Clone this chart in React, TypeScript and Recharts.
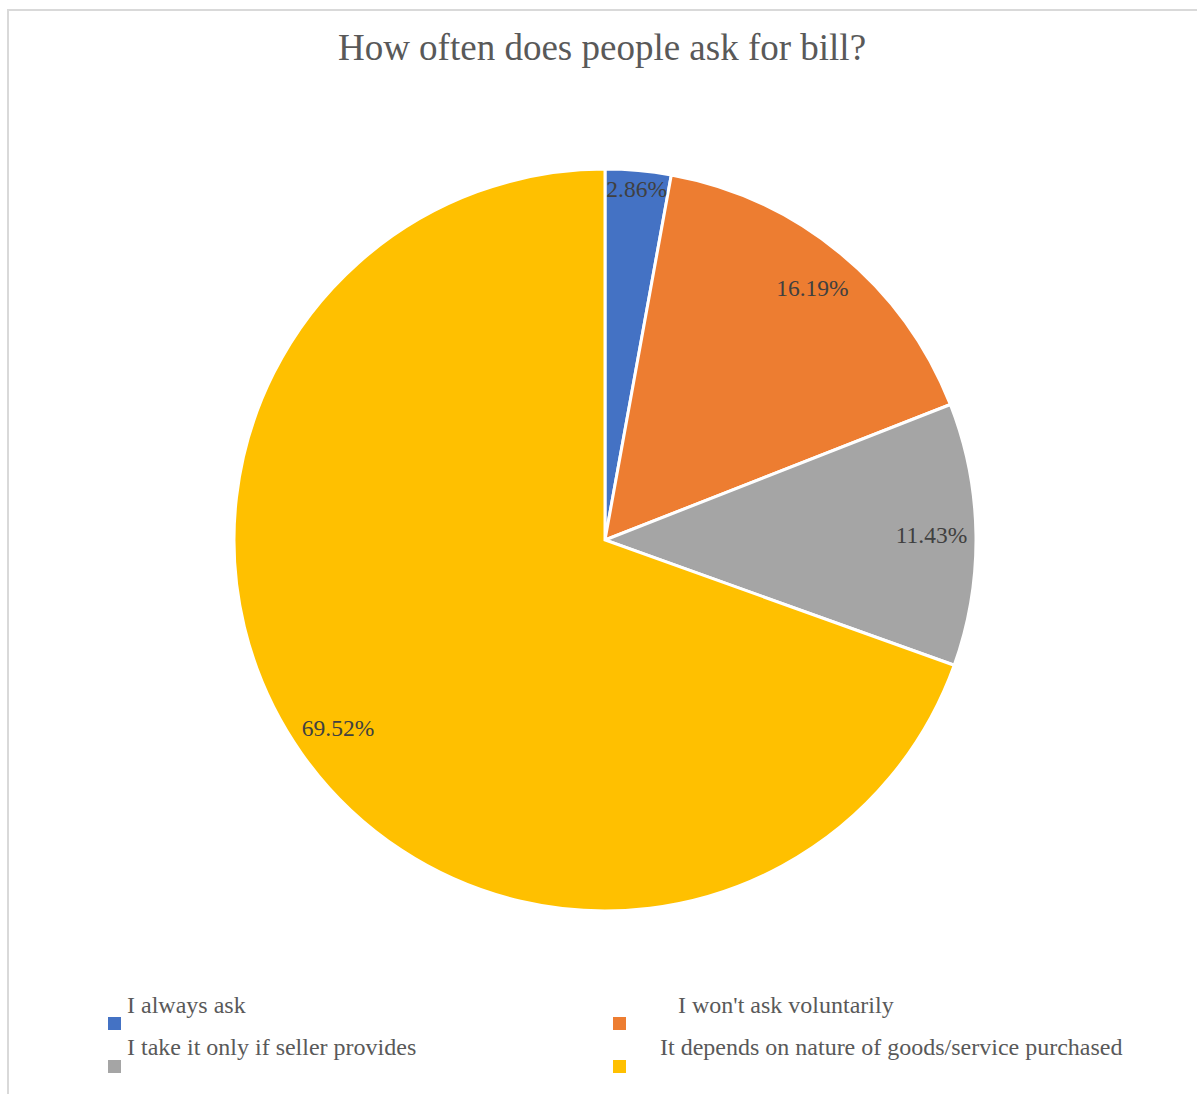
import React from "react";
import { PieChart, Pie, Cell } from "recharts";

const categories = [
  "I always ask",
  "I won't ask voluntarily",
  "I take it only if seller provides",
  "It depends on nature of goods/service purchased",
];
const shares = [2.86, 16.19, 11.43, 69.52];
const colors = ["#4472C4", "#ED7D31", "#A5A5A5", "#FFC000"];

const data = categories.map((name, i) => ({ name, value: shares[i] }));

const FONT = '"Liberation Serif", "Times New Roman", serif';
const RAD = Math.PI / 180;

function renderLabel(props: any) {
  const { cx, cy, midAngle, outerRadius, value } = props;
  // thin slices get pushed out toward the rim, like Excel's best fit
  const r = outerRadius * (value < 5 ? 0.95 : 0.88);
  const x = cx + r * Math.cos(-midAngle * RAD);
  const y = cy + r * Math.sin(-midAngle * RAD);
  return (
    <text
      x={x}
      y={y}
      textAnchor="middle"
      dominantBaseline="central"
      fill="#404040"
      fontSize={23.5}
      fontFamily={FONT}
    >
      {value.toFixed(2)}%
    </text>
  );
}

// legend slots: [marker left, marker top, text left, text center y]
const legendSlots = [
  [108, 1017, 127, 1005],
  [613, 1017, 678, 1005],
  [108, 1060, 127, 1047],
  [613, 1060, 660, 1047],
];

export default function App() {
  return (
    <div
      style={{
        position: "absolute",
        left: 0,
        top: 0,
        width: 1197,
        height: 1094,
        background: "#fff",
        overflow: "hidden",
        fontFamily: FONT,
      }}
    >
      <div
        style={{
          position: "absolute",
          left: 7,
          top: 9,
          width: 1300,
          height: 1200,
          borderLeft: "2px solid #d9d9d9",
          borderTop: "2px solid #d9d9d9",
        }}
      />
      <div
        style={{
          position: "absolute",
          left: 0,
          width: 1204,
          top: 26,
          textAlign: "center",
          fontSize: 37,
          color: "#595959",
          lineHeight: "44px",
        }}
      >
        How often does people ask for bill?
      </div>
      <div style={{ position: "absolute", left: 0, top: 0 }}>
        <PieChart
          width={1197}
          height={1094}
          margin={{ top: 0, right: 0, bottom: 0, left: 0 }}
        >
          <Pie
            data={data}
            dataKey="value"
            nameKey="name"
            cx={605}
            cy={540}
            outerRadius={371}
            startAngle={90}
            endAngle={-270}
            stroke="#ffffff"
            strokeWidth={3}
            label={renderLabel}
            labelLine={false}
            isAnimationActive={false}
          >
            {data.map((d, i) => (
              <Cell key={d.name} fill={colors[i]} />
            ))}
          </Pie>
        </PieChart>
      </div>
      {data.map((d, i) => {
        const [mx, my, tx, ty] = legendSlots[i];
        return (
          <React.Fragment key={d.name}>
            <div
              style={{
                position: "absolute",
                left: mx,
                top: my,
                width: 13,
                height: 13,
                background: colors[i],
              }}
            />
            <div
              style={{
                position: "absolute",
                left: tx,
                top: ty - 14,
                fontSize: 24,
                lineHeight: "28px",
                color: "#595959",
                whiteSpace: "nowrap",
              }}
            >
              {d.name}
            </div>
          </React.Fragment>
        );
      })}
    </div>
  );
}
